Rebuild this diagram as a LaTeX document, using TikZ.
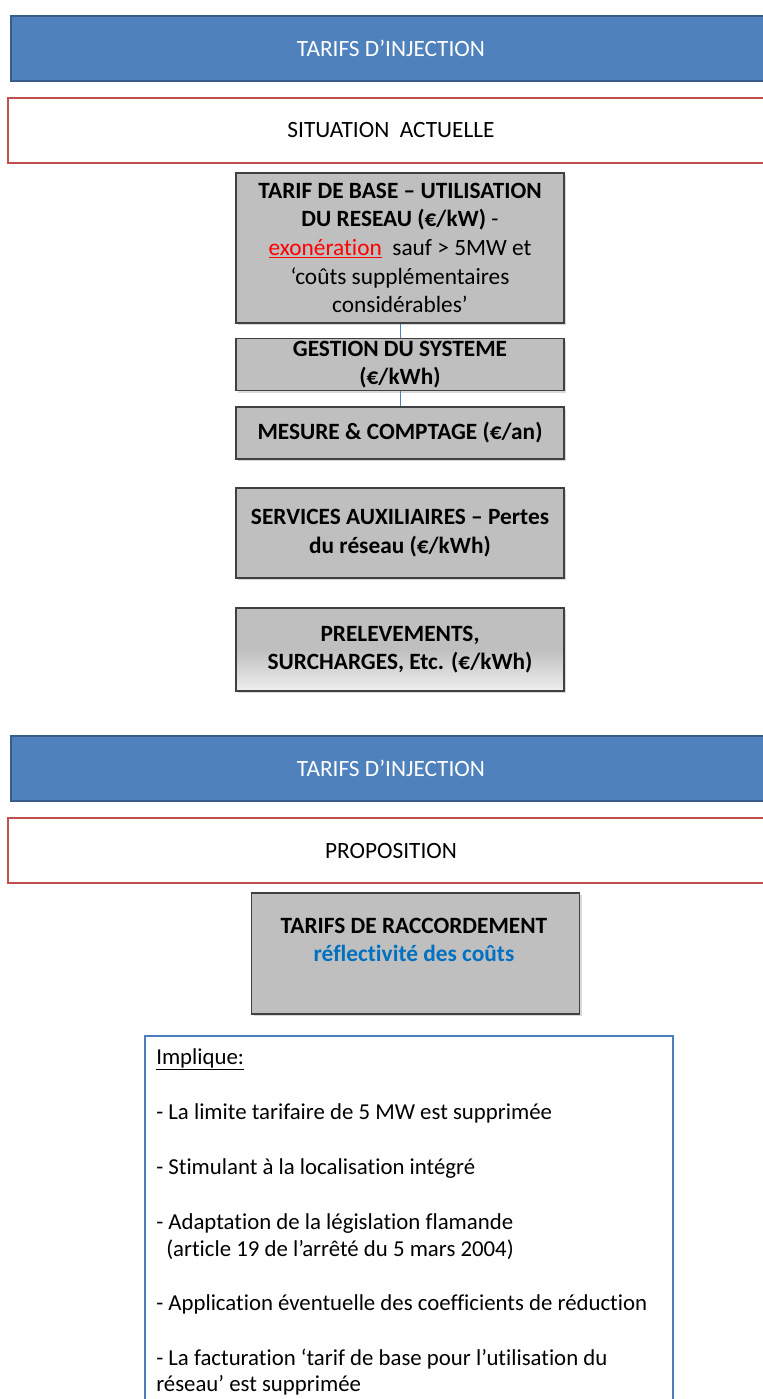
\documentclass[tikz,border=0pt]{standalone}
\usepackage{fontspec}
\setmainfont{Carlito}[Ligatures=NoCommon]
\usepackage{xcolor}
\usepackage{tikz}
\usetikzlibrary{positioning,shadows}
\definecolor{bandc}{HTML}{4F81BD}
\definecolor{banddk}{HTML}{385D8A}
\definecolor{redc}{HTML}{C0504D}
\definecolor{greyc}{HTML}{BFBFBF}
\definecolor{greydk}{HTML}{404040}
\definecolor{notec}{HTML}{4A7EBB}
\definecolor{bluetxt}{HTML}{0070C0}
\newcommand{\pxu}{0.75pt}
\newcommand{\slidefont}{\fontsize{17.5pt}{21.5pt}\selectfont}
\newcommand{\notefont}{\fontsize{17.1pt}{20.6pt}\selectfont}
\tikzset{
  banner/.style={draw=banddk,line width=1.5pt,fill=bandc,text=white,font=\slidefont,anchor=west,minimum width=760*\pxu,minimum height=65*\pxu,inner sep=0pt},
  redbox/.style={draw=redc,line width=1.5pt,fill=white,font=\slidefont,anchor=west,minimum width=766*\pxu,minimum height=65*\pxu,inner sep=0pt},
  graybox/.style={draw=greydk,line width=0.8pt,fill=greyc,font=\slidefont,align=center,minimum width=328*\pxu,inner sep=0pt,
    drop shadow={shadow xshift=1.5pt,shadow yshift=-1.5pt,opacity=0.3}},
  link/.style={bandc,line width=0.6pt},
  notetxt/.style={font=\notefont,anchor=base west,inner sep=0pt}
}
\begin{document}
\begin{tikzpicture}[x=0.75pt,y=-0.75pt]
\useasboundingbox (0,0) rectangle (763,1399);
% situation actuelle
\node[banner] (inj1) at (10,48) {TARIFS D’INJECTION};
\node[redbox] (sit) at (7,130) {SITUATION\ \ ACTUELLE};
\node[graybox,minimum height=150*\pxu] (base) at (400,248) {\textbf{TARIF DE BASE – UTILISATION}\\\textbf{DU RESEAU (€/kW)} -\\\textcolor{red}{\underline{exonération}}\ \ sauf > 5MW et\\‘coûts supplémentaires\\considérables’};
\node[graybox,minimum height=52*\pxu] (gestion) at (400,364.5) {\textbf{GESTION DU SYSTEME}\\\textbf{(€/kWh)}};
\node[graybox,minimum height=52*\pxu] (mesure) at (400,433) {\textbf{MESURE \& COMPTAGE (€/an)}};
\node[graybox,minimum height=90*\pxu] (aux) at (400,533) {\textbf{SERVICES AUXILIAIRES – Pertes}\\\textbf{du réseau (€/kWh)}};
\node[graybox,minimum height=83*\pxu,top color=greyc,bottom color=greyc!25,middle color=greyc] (prelev) at (400,649.5) {\textbf{PRELEVEMENTS,}\\\textbf{SURCHARGES, Etc. (€/kWh)}};
\draw[link] (base.south) -- (gestion.north);
\draw[link] (gestion.south) -- (mesure.north);
% proposition
\node[banner] (inj2) at (10,768.5) {TARIFS D’INJECTION};
\node[redbox] (prop) at (7,850.5) {PROPOSITION};
\node[graybox,minimum height=121*\pxu] (racc) at (415.5,953.5) {};
\node[font=\slidefont,align=center,inner sep=0pt] (racct) at (414,940) {\textbf{TARIFS DE RACCORDEMENT}\\\textcolor{bluetxt}{\textbf{réflectivité des coûts}}};
\draw[notec,line width=1.5pt,fill=white] (145,1430) -- (145,1036) -- (673,1036) -- (673,1430);
\node[notetxt] (impl) at (156,1064) {\underline{Implique:}};
\foreach \xx/\yy/\ln [count=\i] in {
  156/1119/{- La limite tarifaire de 5 MW est supprimée},
  156/1174/{- Stimulant à la localisation intégré},
  156/1229/{- Adaptation de la législation flamande},
  166/1256/{(article 19 de l’arrêté du 5 mars 2004)},
  156/1310/{- Application éventuelle des coefficients de réduction},
  156/1365/{- La facturation ‘tarif de base pour l’utilisation du},
  156/1391/{réseau’ est supprimée}}
  \node[notetxt] (ln\i) at (\xx,\yy) {\ln};
\end{tikzpicture}
\end{document}
